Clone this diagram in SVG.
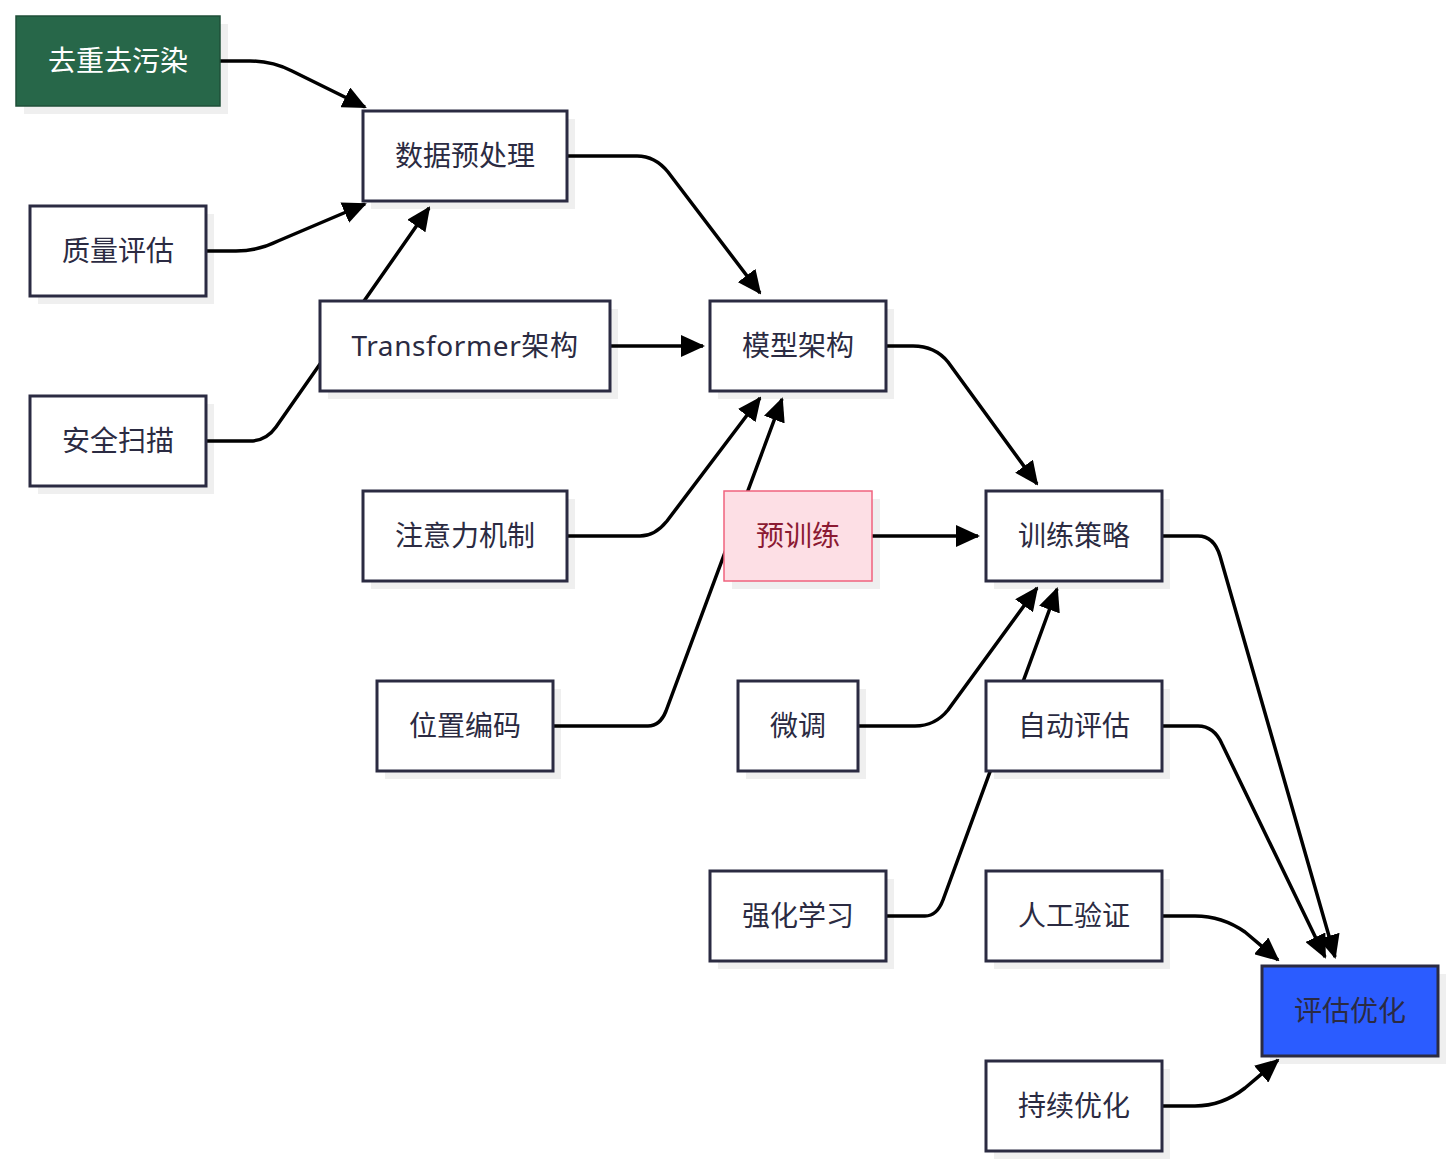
<svg xmlns="http://www.w3.org/2000/svg" width="1454" height="1167" viewBox="0 0 1454 1167">
<defs>
<style>
.sh{fill:#efefef;stroke:none}
.n{fill:#ffffff;stroke:#2b2b42;stroke-width:3}
.t{font-family:"Noto Sans","Noto Sans CJK SC",sans-serif;font-size:28px;fill:#2b2b42;text-anchor:middle;dominant-baseline:central}
.e{fill:none;stroke:#000;stroke-width:3.5;stroke-linejoin:round}
</style>
<marker id="ah" viewBox="0 0 24 22" refX="22" refY="11" markerWidth="24" markerHeight="22" markerUnits="userSpaceOnUse" orient="auto">
<path d="M0,0 L24,11 L0,22 Z" fill="#000"/>
</marker>
</defs>
<rect width="1454" height="1167" fill="#ffffff"/>
<g id="shadows">
<rect class="sh" x="24" y="24" width="204" height="90"/>
<rect class="sh" x="371" y="119" width="204" height="90"/>
<rect class="sh" x="38" y="214" width="176" height="90"/>
<rect class="sh" x="328" y="309" width="290" height="90"/>
<rect class="sh" x="718" y="309" width="176" height="90"/>
<rect class="sh" x="38" y="404" width="176" height="90"/>
<rect class="sh" x="371" y="499" width="204" height="90"/>
<rect class="sh" x="732" y="499" width="148" height="90"/>
<rect class="sh" x="994" y="499" width="176" height="90"/>
<rect class="sh" x="385" y="689" width="176" height="90"/>
<rect class="sh" x="746" y="689" width="120" height="90"/>
<rect class="sh" x="994" y="689" width="176" height="90"/>
<rect class="sh" x="718" y="879" width="176" height="90"/>
<rect class="sh" x="994" y="879" width="176" height="90"/>
<rect class="sh" x="1270" y="974" width="176" height="90"/>
<rect class="sh" x="994" y="1069" width="176" height="90"/>
</g>
<g id="connectors">
<path class="e" marker-end="url(#ah)" d="M220,61 L250,61 Q272,61 292,71 L365,107"/>
<path class="e" marker-end="url(#ah)" d="M206,251 L236,251 Q258,251 278,241 L365,204"/>
<path class="e" marker-end="url(#ah)" d="M206,441 L250,441 Q266,441 276,427 L429,208"/>
<path class="e" marker-end="url(#ah)" d="M610,346 L703,346"/>
<path class="e" marker-end="url(#ah)" d="M567,156 L637,156 Q655,156 668,172 L760,293"/>
<path class="e" marker-end="url(#ah)" d="M567,536 L640,536 Q655,536 667,521 L760,398"/>
<path class="e" marker-end="url(#ah)" d="M553,726 L648,726 Q660,726 666,711 L782,399"/>
<path class="e" marker-end="url(#ah)" d="M872,536 L978,536"/>
<path class="e" marker-end="url(#ah)" d="M886,346 L913,346 Q935,346 948,362 L1037,484"/>
<path class="e" marker-end="url(#ah)" d="M858,726 L915,726 Q935,726 948,710 L1037,588"/>
<path class="e" marker-end="url(#ah)" d="M886,916 L925,916 Q937,916 943,900 L1057,589"/>
<path class="e" marker-end="url(#ah)" d="M1162,536 L1198,536 Q1214,536 1220,556 L1335,957"/>
<path class="e" marker-end="url(#ah)" d="M1162,726 L1198,726 Q1214,726 1222,744 L1325,957"/>
<path class="e" marker-end="url(#ah)" d="M1162,916 L1195,916 Q1222,916 1245,932 L1278,960"/>
<path class="e" marker-end="url(#ah)" d="M1162,1106 L1195,1106 Q1222,1106 1245,1088 L1278,1060"/>
</g>
<g id="n1"><rect x="16" y="16" width="204" height="90" fill="#276749" stroke="#1f4f38" stroke-width="1.5"/><text class="t" x="118" y="60" style="fill:#ffffff">去重去污染</text></g>
<g id="n2"><rect class="n" x="363" y="111" width="204" height="90"/><text class="t" x="465" y="155">数据预处理</text></g>
<g id="n3"><rect class="n" x="30" y="206" width="176" height="90"/><text class="t" x="118" y="250">质量评估</text></g>
<g id="n4"><rect class="n" x="320" y="301" width="290" height="90"/><text class="t" x="465" y="345" style="letter-spacing:0.6px">Transformer架构</text></g>
<g id="n5"><rect class="n" x="710" y="301" width="176" height="90"/><text class="t" x="798" y="345">模型架构</text></g>
<g id="n6"><rect class="n" x="30" y="396" width="176" height="90"/><text class="t" x="118" y="440">安全扫描</text></g>
<g id="n7"><rect class="n" x="363" y="491" width="204" height="90"/><text class="t" x="465" y="535">注意力机制</text></g>
<g id="n8"><rect x="724" y="491" width="148" height="90" fill="#fddfe5" stroke="#f0637e" stroke-width="1.5"/><text class="t" x="798" y="535" style="fill:#8b1a32">预训练</text></g>
<g id="n9"><rect class="n" x="986" y="491" width="176" height="90"/><text class="t" x="1074" y="535">训练策略</text></g>
<g id="n10"><rect class="n" x="377" y="681" width="176" height="90"/><text class="t" x="465" y="725">位置编码</text></g>
<g id="n11"><rect class="n" x="738" y="681" width="120" height="90"/><text class="t" x="798" y="725">微调</text></g>
<g id="n12"><rect class="n" x="986" y="681" width="176" height="90"/><text class="t" x="1074" y="725">自动评估</text></g>
<g id="n13"><rect class="n" x="710" y="871" width="176" height="90"/><text class="t" x="798" y="915">强化学习</text></g>
<g id="n14"><rect class="n" x="986" y="871" width="176" height="90"/><text class="t" x="1074" y="915">人工验证</text></g>
<g id="n15"><rect x="1262" y="966" width="176" height="90" fill="#2b5cff" stroke="#2b2b42" stroke-width="3"/><text class="t" x="1350" y="1010">评估优化</text></g>
<g id="n16"><rect class="n" x="986" y="1061" width="176" height="90"/><text class="t" x="1074" y="1105">持续优化</text></g>
</svg>
